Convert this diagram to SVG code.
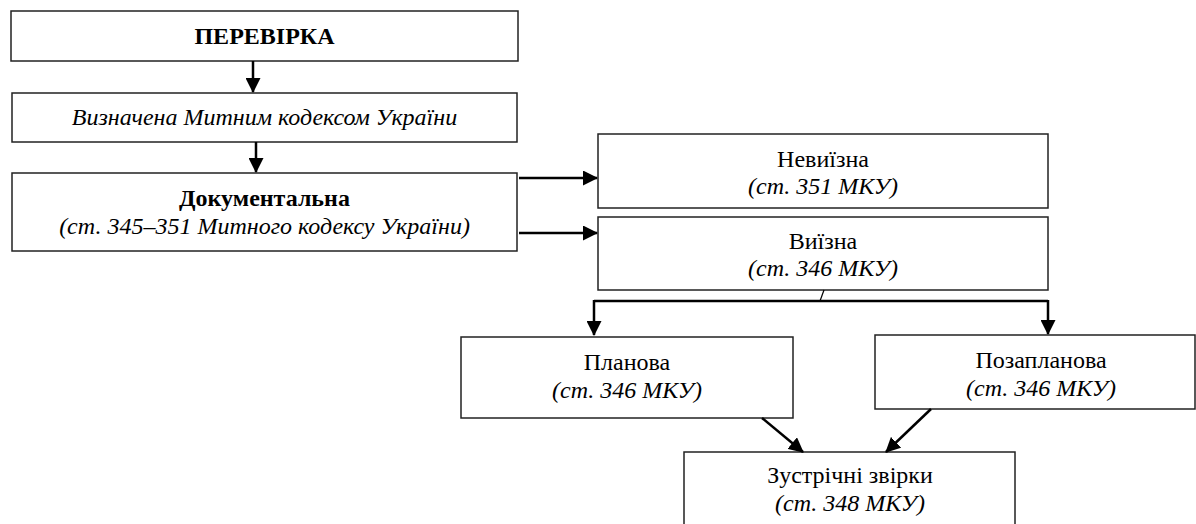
<svg xmlns="http://www.w3.org/2000/svg" width="1196" height="524" viewBox="0 0 1196 524">
<style>
.box{fill:#fff;stroke:#222;stroke-width:1.5}
.t{font-family:"Liberation Serif","Times New Roman",serif;font-size:24px;fill:#000;text-anchor:middle}
.b{font-weight:bold}
.i{font-style:italic}
.c{fill:none;stroke:#000;stroke-width:2.5}
.thin{fill:none;stroke:#000;stroke-width:1.2}
</style>
<defs>
<marker id="arr" markerUnits="userSpaceOnUse" markerWidth="15" markerHeight="15" refX="14" refY="7.5" orient="auto">
<path d="M0,0 L15,7.5 L0,15 z" fill="#000"/>
</marker>
</defs>
<rect width="1196" height="524" fill="#fff"/>
<g id="n1"><rect class="box" x="11" y="11" width="507" height="50"/><text class="t b" x="264.5" y="44" font-size="25">ПЕРЕВІРКА</text></g>
<g id="n2"><rect class="box" x="12" y="93" width="505" height="49"/><text class="t i" x="264.5" y="125">Визначена Митним кодексом України</text></g>
<g id="n3"><rect class="box" x="12" y="173" width="505" height="78"/><text class="t b" x="264.5" y="206">Документальна</text><text class="t i" x="264.5" y="234">(ст. 345–351 Митного кодексу України)</text></g>
<g id="n4"><rect class="box" x="598" y="134" width="450" height="74"/><text class="t" x="823" y="167">Невиїзна</text><text class="t i" x="823" y="194">(ст. 351 МКУ)</text></g>
<g id="n5"><rect class="box" x="598" y="217" width="450" height="73"/><text class="t" x="823" y="249">Виїзна</text><text class="t i" x="823" y="276">(ст. 346 МКУ)</text></g>
<g id="n6"><rect class="box" x="461" y="337" width="332" height="81"/><text class="t" x="627" y="370">Планова</text><text class="t i" x="627" y="398">(ст. 346 МКУ)</text></g>
<g id="n7"><rect class="box" x="875" y="335" width="320" height="74"/><text class="t" x="1041" y="368">Позапланова</text><text class="t i" x="1041" y="396">(ст. 346 МКУ)</text></g>
<g id="n8"><rect class="box" x="684" y="452" width="331" height="80"/><text class="t" x="850" y="483">Зустрічні звірки</text><text class="t i" x="850" y="511">(ст. 348 МКУ)</text></g>
<g id="connectors">
<line class="c" x1="253" y1="61" x2="253" y2="92" marker-end="url(#arr)"/>
<line class="c" x1="256" y1="142" x2="256" y2="172" marker-end="url(#arr)"/>
<line class="c" x1="519" y1="178" x2="597" y2="178" marker-end="url(#arr)"/>
<line class="c" x1="519" y1="233" x2="597" y2="233" marker-end="url(#arr)"/>
<line class="thin" x1="824" y1="290" x2="820" y2="301"/>
<line class="c" x1="594" y1="301" x2="1048" y2="301"/>
<line class="c" x1="594" y1="300" x2="594" y2="335" marker-end="url(#arr)"/>
<line class="c" x1="1048" y1="300" x2="1048" y2="334" marker-end="url(#arr)"/>
<line class="c" x1="762" y1="418" x2="803" y2="452" marker-end="url(#arr)"/>
<line class="c" x1="931" y1="409" x2="886" y2="452" marker-end="url(#arr)"/>
</g>
</svg>
